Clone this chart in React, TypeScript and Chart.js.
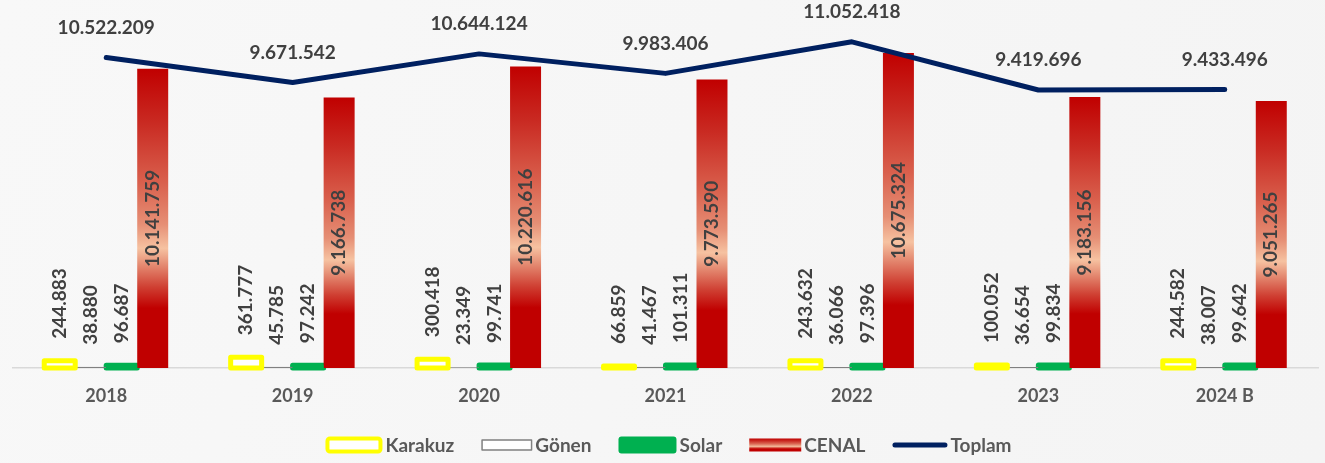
import React, { useEffect, useRef } from 'react';
import { Chart, registerables } from 'chart.js';

Chart.register(...registerables);

const categories = ['2018', '2019', '2020', '2021', '2022', '2023', '2024 B'];
const karakuz = [244883, 361777, 300418, 66859, 243632, 100052, 244582];
const gonen = [38880, 45785, 23349, 41467, 36066, 36654, 38007];
const solar = [96687, 97242, 99741, 101311, 97396, 99834, 99642];
const cenal = [10141759, 9166738, 10220616, 9773590, 10675324, 9183156, 9051265];
const toplam = [10522209, 9671542, 10644124, 9983406, 11052418, 9419696, 9433496];
const seriesNames = ['Karakuz', 'Gönen', 'Solar', 'CENAL', 'Toplam'];

const FONT = 'Lato, "Open Sans", sans-serif';
const LABEL_COLOR = '#404040';
const AXIS_COLOR = '#595959';
const YELLOW = '#FFFF00';
const GREEN = '#00B050';

const cenalStops: [number, string][] = [
  [0, '#C00000'],
  [0.18, '#C92A22'],
  [0.38, '#D9604D'],
  [0.52, '#E68F75'],
  [0.6, '#F6C2A1'],
  [0.66, '#E3866E'],
  [0.73, '#CF3F32'],
  [0.8, '#C00000'],
  [1, '#C00000'],
];

function fmt(n: number): string {
  return String(Math.round(n)).replace(/\B(?=(\d{3})+(?!\d))/g, '.');
}

function makeGradient(ctx: CanvasRenderingContext2D, top: number, bottom: number) {
  const g = ctx.createLinearGradient(0, top, 0, bottom);
  cenalStops.forEach(([o, c]) => g.addColorStop(o, c));
  return g;
}

const backgroundPlugin = {
  id: 'bgFill',
  beforeDraw(chart: any) {
    const { ctx, width, height } = chart;
    ctx.save();
    const g = ctx.createLinearGradient(0, 0, width, height);
    g.addColorStop(0, '#F8F8F8');
    g.addColorStop(1, '#F4F4F4');
    ctx.fillStyle = g;
    ctx.fillRect(0, 0, width, height);
    ctx.restore();
  },
};

// Excel-like outlines centred on the bar edge for the small bars
function strokeBars(chart: any, index: number, color: string, width: number) {
  const ctx: CanvasRenderingContext2D = chart.ctx;
  const meta = chart.getDatasetMeta(index);
  ctx.save();
  ctx.strokeStyle = color;
  ctx.lineWidth = width;
  ctx.lineJoin = 'round';
  meta.data.forEach((el: any) => {
    const { x, y, base, width: w } = el.getProps(['x', 'y', 'base', 'width'], true);
    ctx.strokeRect(x - w / 2, Math.min(y, base), w, Math.abs(base - y));
  });
  ctx.restore();
}

const outlinePlugin = {
  id: 'barOutlines',
  beforeDatasetDraw(chart: any, args: any) {
    if (args.index === 3) strokeBars(chart, 2, GREEN, 5);
  },
  afterDatasetDraw(chart: any, args: any) {
    if (args.index === 0) strokeBars(chart, 0, YELLOW, 5);
  },
};

const labelsPlugin = {
  id: 'valueLabels',
  afterDatasetsDraw(chart: any) {
    const ctx: CanvasRenderingContext2D = chart.ctx;
    ctx.save();
    ctx.font = `bold 19px ${FONT}`;
    ctx.fillStyle = LABEL_COLOR;
    chart.data.datasets.forEach((ds: any, di: number) => {
      const meta = chart.getDatasetMeta(di);
      meta.data.forEach((el: any, i: number) => {
        const v = ds.data[i] as number;
        const text = fmt(v);
        if (di <= 2) {
          ctx.save();
          ctx.translate(el.x, el.y - 22);
          ctx.rotate(-Math.PI / 2);
          ctx.textAlign = 'left';
          ctx.textBaseline = 'middle';
          ctx.fillText(text, 0, 0);
          ctx.restore();
        } else if (di === 3) {
          ctx.save();
          ctx.translate(el.x, (el.y + el.base) / 2);
          ctx.rotate(-Math.PI / 2);
          ctx.textAlign = 'center';
          ctx.textBaseline = 'middle';
          ctx.fillText(text, 0, 0);
          ctx.restore();
        } else {
          ctx.textAlign = 'center';
          ctx.textBaseline = 'middle';
          ctx.fillText(text, el.x, el.y - 30);
        }
      });
    });
    ctx.restore();
  },
};

function rr(ctx: CanvasRenderingContext2D, x: number, y: number, w: number, h: number, r: number) {
  ctx.beginPath();
  if ((ctx as any).roundRect) (ctx as any).roundRect(x, y, w, h, r);
  else ctx.rect(x, y, w, h);
}

const legendPlugin = {
  id: 'customLegend',
  afterDraw(chart: any) {
    const ctx: CanvasRenderingContext2D = chart.ctx;
    const area = chart.chartArea;
    const boxW = [57, 51, 58, 52, 55];
    const gapText = 3;
    const gapItem = 27;
    const yc = 445;
    ctx.save();
    ctx.font = `bold 19px ${FONT}`;
    const labels = chart.data.datasets.map((d: any) => d.label as string);
    const textW = labels.map((l: string) => ctx.measureText(l).width);
    let total = 0;
    labels.forEach((_: string, i: number) => {
      total += boxW[i] + gapText + textW[i];
    });
    total += gapItem * (labels.length - 1);
    let x = (area.left + area.right) / 2 + 3 - total / 2;
    labels.forEach((label: string, i: number) => {
      const w = boxW[i];
      if (i === 0) {
        rr(ctx, x + 2, yc - 6.5, w - 4, 13, 2.5);
        ctx.fillStyle = '#FFFFFF';
        ctx.fill();
        ctx.lineWidth = 4;
        ctx.lineJoin = 'round';
        ctx.strokeStyle = YELLOW;
        ctx.stroke();
      } else if (i === 1) {
        ctx.beginPath();
        ctx.rect(x + 0.75, yc - 5, w - 1.5, 10);
        ctx.fillStyle = '#FFFFFF';
        ctx.fill();
        ctx.lineWidth = 1.5;
        ctx.strokeStyle = '#808080';
        ctx.stroke();
      } else if (i === 2) {
        rr(ctx, x, yc - 8.5, w, 17, 3);
        ctx.fillStyle = GREEN;
        ctx.fill();
      } else if (i === 3) {
        ctx.fillStyle = makeGradient(ctx, yc - 6.5, yc + 6.5);
        ctx.fillRect(x, yc - 6.5, w, 13);
      } else {
        ctx.beginPath();
        ctx.moveTo(x + 2.5, yc);
        ctx.lineTo(x + w - 2.5, yc);
        ctx.lineWidth = 5;
        ctx.lineCap = 'round';
        ctx.strokeStyle = '#002060';
        ctx.stroke();
      }
      x += w + gapText;
      ctx.fillStyle = AXIS_COLOR;
      ctx.textAlign = 'left';
      ctx.textBaseline = 'middle';
      ctx.fillText(label, x, yc + 1);
      x += textW[i] + gapItem;
    });
    ctx.restore();
  },
};

export default function App() {
  const canvasRef = useRef<HTMLCanvasElement | null>(null);

  useEffect(() => {
    const canvas = canvasRef.current;
    if (!canvas) return;
    const chart = new Chart(canvas, {
      type: 'bar',
      data: {
        labels: categories,
        datasets: [
          {
            label: seriesNames[0],
            data: karakuz,
            backgroundColor: '#FFFFFF',
            borderWidth: 0,
            order: 1,
          },
          {
            label: seriesNames[1],
            data: gonen,
            backgroundColor: '#FFFFFF',
            borderColor: '#808080',
            borderWidth: 1,
            borderSkipped: false,
            order: 1,
          },
          {
            label: seriesNames[2],
            data: solar,
            backgroundColor: GREEN,
            borderWidth: 0,
            order: 1,
          },
          {
            label: seriesNames[3],
            data: cenal,
            backgroundColor: (c: any) => {
              const ch = c.chart;
              if (!ch.chartArea || c.type !== 'data') return '#C00000';
              const ys = ch.scales.y;
              const top = ys.getPixelForValue(c.raw as number);
              const bottom = ys.getPixelForValue(0);
              return makeGradient(ch.ctx, top, bottom);
            },
            borderWidth: 0,
            order: 1,
          },
          {
            type: 'line',
            label: seriesNames[4],
            data: toplam,
            borderColor: '#002060',
            backgroundColor: '#002060',
            borderWidth: 5,
            pointRadius: 0,
            pointHoverRadius: 0,
            borderCapStyle: 'round',
            borderJoinStyle: 'round',
            tension: 0,
            order: 0,
          } as any,
        ],
      },
      options: {
        responsive: false,
        animation: false,
        events: [],
        layout: { padding: { left: 13, right: 7, top: 0, bottom: 0 } },
        datasets: {
          bar: { categoryPercentage: 0.665, barPercentage: 1 },
        },
        plugins: {
          legend: { display: false },
          tooltip: { enabled: false },
          title: { display: false },
        },
        scales: {
          x: {
            grid: { display: false, drawTicks: false },
            border: { display: true, color: '#D9D9D9', width: 1.5 },
            ticks: {
              font: { family: FONT, size: 18, weight: 'bold' },
              color: AXIS_COLOR,
              padding: 17,
              maxRotation: 0,
              autoSkip: false,
            },
            afterFit: (s: any) => {
              s.height = 95;
            },
          },
          y: { display: false, min: 0, max: 12470000 },
        },
      },
      plugins: [backgroundPlugin, outlinePlugin, labelsPlugin, legendPlugin],
    });
    return () => chart.destroy();
  }, []);

  return (
    <div style={{ position: 'fixed', left: 0, top: 0, width: 1325, height: 463 }}>
      <canvas ref={canvasRef} width={1325} height={463} style={{ display: 'block' }} />
    </div>
  );
}
